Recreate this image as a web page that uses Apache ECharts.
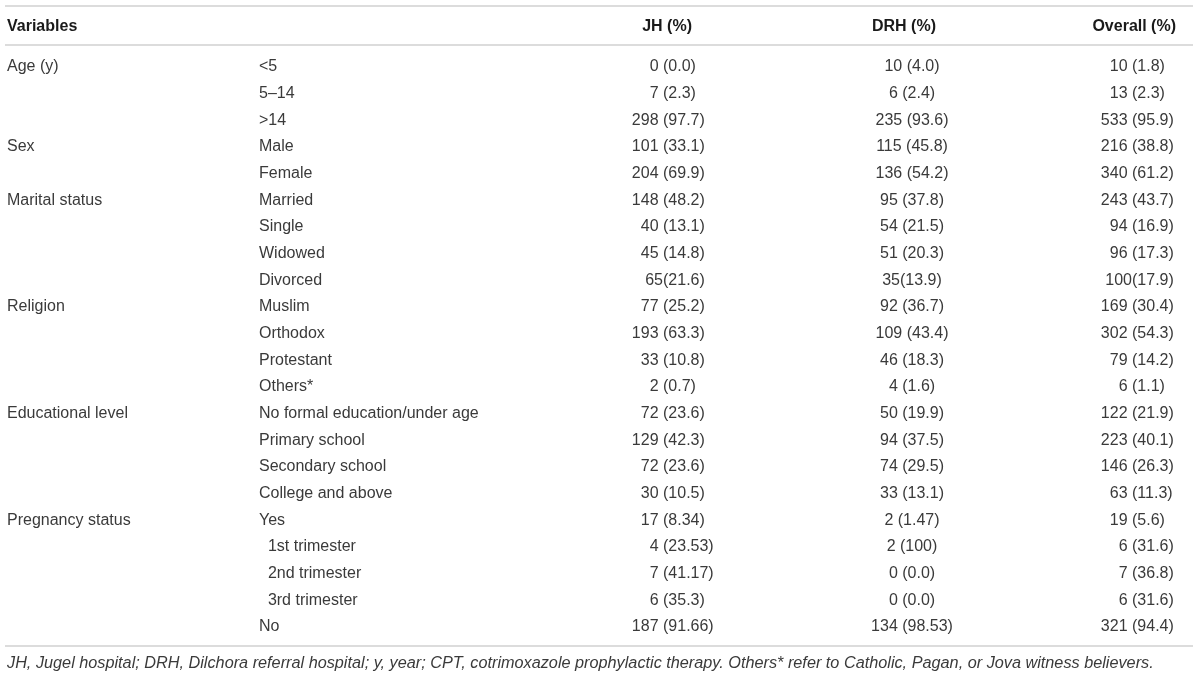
<!DOCTYPE html>
<html>
<head>
<meta charset="utf-8">
<script src="https://cdn.jsdelivr.net/npm/echarts@6/dist/echarts.min.js"></script>
<style>
html,body{margin:0;padding:0;background:#fff;}
#chart{width:1200px;height:678px;}
</style>
</head>
<body>
<div id="chart"></div>
<script>
// ---- Data ----
const headers = ['Variables', 'JH (%)', 'DRH (%)', 'Overall (%)'];
const groupNames = ['Age (y)', 'Sex', 'Marital status', 'Religion', 'Educational level', 'Pregnancy status'];
const groupSizes = [3, 2, 4, 4, 4, 5];
const categories = ['<5', '5–14', '>14', 'Male', 'Female', 'Married', 'Single', 'Widowed', 'Divorced',
  'Muslim', 'Orthodox', 'Protestant', 'Others*', 'No formal education/under age', 'Primary school',
  'Secondary school', 'College and above', 'Yes', '\u00a0\u00a01st trimester', '\u00a0\u00a02nd trimester',
  '\u00a0\u00a03rd trimester', 'No'];
const jhValues = ['0 (0.0)', '7 (2.3)', '298 (97.7)', '101 (33.1)', '204 (69.9)', '148 (48.2)', '40 (13.1)',
  '45 (14.8)', '65(21.6)', '77 (25.2)', '193 (63.3)', '33 (10.8)', '2 (0.7)', '72 (23.6)', '129 (42.3)',
  '72 (23.6)', '30 (10.5)', '17 (8.34)', '4 (23.53)', '7 (41.17)', '6 (35.3)', '187 (91.66)'];
const drhValues = ['10 (4.0)', '6 (2.4)', '235 (93.6)', '115 (45.8)', '136 (54.2)', '95 (37.8)', '54 (21.5)',
  '51 (20.3)', '35(13.9)', '92 (36.7)', '109 (43.4)', '46 (18.3)', '4 (1.6)', '50 (19.9)', '94 (37.5)',
  '74 (29.5)', '33 (13.1)', '2 (1.47)', '2 (100)', '0 (0.0)', '0 (0.0)', '134 (98.53)'];
const overallValues = ['10 (1.8)', '13 (2.3)', '533 (95.9)', '216 (38.8)', '340 (61.2)', '243 (43.7)', '94 (16.9)',
  '96 (17.3)', '100(17.9)', '169 (30.4)', '302 (54.3)', '79 (14.2)', '6 (1.1)', '122 (21.9)', '223 (40.1)',
  '146 (26.3)', '63 (11.3)', '19 (5.6)', '6 (31.6)', '7 (36.8)', '6 (31.6)', '321 (94.4)'];
const footnote = 'JH, Jugel hospital; DRH, Dilchora referral hospital; y, year; CPT, cotrimoxazole prophylactic therapy. Others* refer to Catholic, Pagan, or Jova witness believers.';

// ---- Layout (column anchors in x-axis units) ----
const FONT = '"Liberation Sans", Arial, sans-serif';
const FS = 16;
const TXT = '#3a3a3a';
const HEAD = '#1a1a1a';
const colGroup = 7, colCat = 259, colJH = 663, colDRH = 912, colOverall = 1132;

const groupStart = {};
let acc = 0;
groupNames.forEach((g, k) => { groupStart[acc] = g; acc += groupSizes[k]; });

function txt(x, y, text, align, extra) {
  return {
    type: 'text', x: x, y: y,
    style: Object.assign({
      text: text, fill: TXT, fontSize: FS, fontFamily: FONT,
      align: align, verticalAlign: 'middle'
    }, extra || {})
  };
}
function splitAt(x, y, s) {
  const p = s.indexOf('(');
  return [txt(x, y, s.slice(0, p), 'right'), txt(x, y, s.slice(p), 'left')];
}
function headText(x, text, align) {
  return { type: 'text', x: x, y: 27, style: { text: text, fill: HEAD, fontSize: FS, fontWeight: 'bold', fontFamily: FONT, align: align, verticalAlign: 'middle' } };
}
function rule(y) {
  return { type: 'line', shape: { x1: 5, y1: y, x2: 1193, y2: y }, style: { stroke: '#dcdcdc', lineWidth: 2 } };
}

const chart = echarts.init(document.getElementById('chart'));
chart.setOption({
  backgroundColor: '#ffffff',
  animation: false,
  grid: { left: 0, right: 0, top: 53.67, bottom: 37.67 },
  xAxis: { type: 'value', min: 0, max: 1200, show: false },
  yAxis: { type: 'category', inverse: true, data: categories, show: false },
  series: [{
    type: 'custom',
    data: categories.map((c, i) => [0, i]),
    encode: { x: 0, y: 1 },
    renderItem: function (params, api) {
      const i = api.value(1);
      const y = api.coord([0, i])[1];
      const X = v => api.coord([v, i])[0];
      const children = [];
      if (groupStart[i] !== undefined) children.push(txt(X(colGroup), y, groupStart[i], 'left'));
      children.push(txt(X(colCat), y, categories[i], 'left'));
      splitAt(X(colJH), y, jhValues[i]).forEach(e => children.push(e));
      children.push(txt(X(colDRH), y, drhValues[i], 'center'));
      splitAt(X(colOverall), y, overallValues[i]).forEach(e => children.push(e));
      return { type: 'group', children: children };
    }
  }],
  graphic: [
    rule(6), rule(45), rule(646),
    headText(7, headers[0], 'left'),
    headText(692, headers[1], 'right'),
    headText(936, headers[2], 'right'),
    headText(1176, headers[3], 'right'),
    { type: 'text', x: 7, y: 663, style: { text: footnote, fill: TXT, fontSize: 16.25, fontStyle: 'italic', fontFamily: FONT, align: 'left', verticalAlign: 'middle' } }
  ]
});
</script>
</body>
</html>
